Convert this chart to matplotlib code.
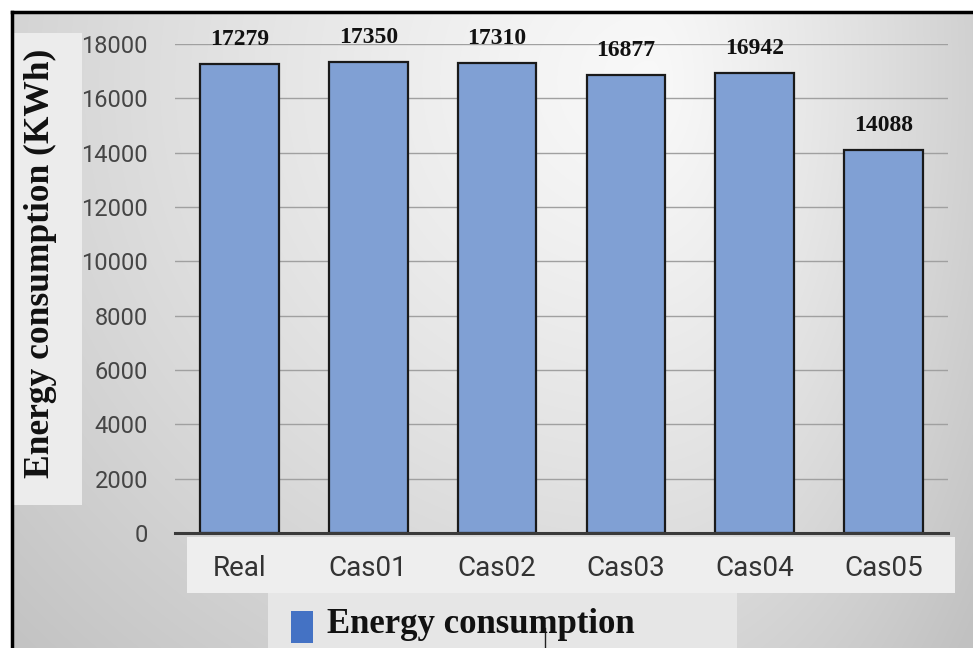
import numpy as np
import matplotlib.pyplot as plt
from matplotlib.patches import Rectangle
from matplotlib.lines import Line2D

cases = ['Real', 'Cas01', 'Cas02', 'Cas03', 'Cas04', 'Cas05']
energy = [17279, 17350, 17310, 16877, 16942, 14088]
yticks = [0, 2000, 4000, 6000, 8000, 10000, 12000, 14000, 16000, 18000]

W, H = 973, 648
fig = plt.figure(figsize=(W / 100, H / 100), dpi=100)

# slide background: soft grey radial gradient
bg = fig.add_axes([0, 0, 1, 1], zorder=-10)
xx, yy = np.meshgrid(np.arange(W), np.arange(H))
dx = np.where(xx > 650, (xx - 650) / 330.0, (xx - 650) / 700.0)
dy = (yy - 80) / 650.0
r = np.sqrt(dx ** 2 + dy ** 2)
g = np.clip(0.975 - 0.16 * r ** 1.2, 0.76, 1.0)
bg.imshow(np.dstack([g, g, g]), extent=[0, W, H, 0], aspect='auto')
bg.set_xlim(0, W)
bg.set_ylim(H, 0)
bg.axis('off')

def box(x0, y0, x1, y1, color, **kw):
    bg.add_patch(Rectangle((x0, y0), x1 - x0, y1 - y0, facecolor=color,
                           edgecolor='none', **kw))

# white margin + black frame
box(0, 0, W, 11, 'white')
box(0, 0, 11, H, 'white')
bg.add_line(Line2D([12, W], [12, 12], color='black', lw=2.5))
bg.add_line(Line2D([12, 12], [12, H], color='black', lw=2.5))

# lighter text boxes
box(14, 33, 82, 505, '#ececec')
box(187, 537, 955, 593, '#eeeeee')
box(268, 593, 737, H, '#e6e6e6')

# legend
box(291, 611, 313, 643, '#4472c4', zorder=3)
bg.text(327, 633, 'Energy consumption', fontsize=25, fontweight='bold',
        family='Liberation Serif', color='#111111', va='baseline', ha='left')
bg.add_line(Line2D([545, 545], [628, H], color='#222222', lw=1))

# y label
fig.text(40 / W, 1 - 263 / H, 'Energy consumption (KWh)', rotation=90,
         fontsize=25.5, fontweight='bold', family='Liberation Serif',
         color='#111111', ha='center', va='center')

ax = fig.add_axes([175 / W, 1 - 533 / H, (948 - 175) / W, (533 - 44) / H])
ax.patch.set_alpha(0)
x = np.arange(len(cases))
ax.bar(x, energy, width=0.61, color='#80a0d4', edgecolor='#1a1a1a',
       linewidth=1.6, zorder=3)
for xi, v in zip(x, energy):
    ax.annotate(str(v), (xi, v), xytext=(0, 10), textcoords='offset points',
                ha='center', va='bottom', fontsize=17, fontweight='bold',
                family='Liberation Serif', color='#111111')

ax.set_xlim(-0.5, len(cases) - 0.5)
ax.set_ylim(0, 18000)
ax.set_yticks(yticks)
ax.set_xticks(x)
ax.set_xticklabels(cases)
ax.grid(axis='y', color='#a0a0a0', lw=1, zorder=0)
for s in ['left', 'right', 'top']:
    ax.spines[s].set_visible(False)
ax.spines['bottom'].set_color('#3a3a3a')
ax.spines['bottom'].set_linewidth(2.2)
ax.spines['bottom'].set_zorder(4)
ax.tick_params(axis='y', length=0, pad=19.5, labelsize=17, labelcolor='#454545')
ax.tick_params(axis='x', length=0, pad=16, labelsize=20, labelcolor='#333333')
for lab in ax.get_xticklabels() + ax.get_yticklabels():
    lab.set_family('Roboto')

fig.savefig('out.png', dpi=100)
